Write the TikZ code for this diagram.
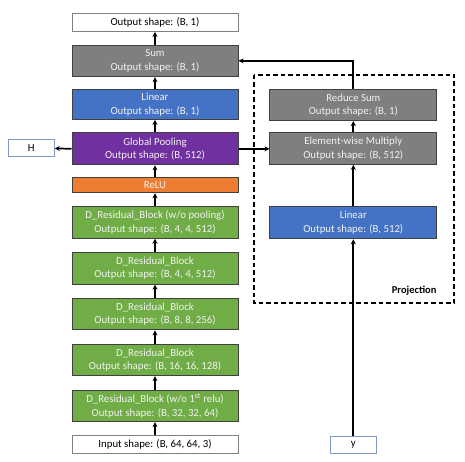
\documentclass[tikz,border=0pt]{standalone}
\usepackage{fontspec}
\setmainfont{Carlito}
\usetikzlibrary{arrows.meta}
\definecolor{cgray}{HTML}{7F7F7F}
\definecolor{cblue}{HTML}{4472C4}
\definecolor{cpurple}{HTML}{7030A0}
\definecolor{corange}{HTML}{ED7D31}
\definecolor{cgreen}{HTML}{70AD47}
\definecolor{cedge}{HTML}{404040}
\definecolor{ctext}{HTML}{F2F2F2}
\definecolor{clblue}{HTML}{7F9AC9}
\begin{document}
\begin{tikzpicture}[x=1pt,y=1pt,
  blk/.style={draw=cedge,line width=1pt,text=ctext,align=center,inner sep=0pt,
    minimum width=166pt,minimum height=31.5pt,font=\fontsize{10.8}{13.4}\selectfont},
  wbox/.style={draw=cgray,line width=1pt,fill=white,text=black,align=center,inner sep=0pt,
    minimum width=166pt,minimum height=18pt,font=\fontsize{10.8}{13.4}\selectfont},
  sbox/.style={draw=clblue,line width=1pt,fill=white,text=black,inner sep=0pt,
    minimum width=46pt,minimum height=17pt,font=\fontsize{10.8}{13.4}\selectfont},
  arr/.style={line width=1.7pt,-{Stealth[length=5pt,width=5pt]}},
]
\useasboundingbox (0,0) rectangle (465,-462);
% main column
\node[wbox] (out) at (155,-22.5) {Output shape: (B, 1)};
\node[blk,fill=cgray] (sum) at (155,-60.85) {Sum\\Output shape: (B, 1)};
\node[blk,fill=cblue,minimum height=29.5pt] (lin) at (155,-104.65) {Linear\\Output shape: (B, 1)};
\node[blk,fill=cpurple,minimum height=32pt] (gp) at (155,-148.85) {Global Pooling\\Output shape: (B, 512)};
\node[blk,fill=corange,minimum height=15.5pt] (relu) at (155,-185) {ReLU};
\node[blk,fill=cgreen] (r1) at (155,-222.5) {D\_Residual\_Block (w/o pooling)\\Output shape: (B, 4, 4, 512)};
\node[blk,fill=cgreen] (r2) at (155,-268.35) {D\_Residual\_Block\\Output shape: (B, 4, 4, 512)};
\node[blk,fill=cgreen] (r3) at (155,-314.15) {D\_Residual\_Block\\Output shape: (B, 8, 8, 256)};
\node[blk,fill=cgreen] (r4) at (155,-359.85) {D\_Residual\_Block\\Output shape: (B, 16, 16, 128)};
\node[blk,fill=cgreen] (r5) at (155,-405.85) {D\_Residual\_Block (w/o 1\textsuperscript{st} relu)\\Output shape: (B, 32, 32, 64)};
\node[wbox] (in) at (155,-444.5) {Input shape: (B, 64, 64, 3)};
\node[sbox] (H) at (31.3,-148.35) {H};
% projection
\draw[line width=1.4pt,dash pattern=on 4.5pt off 3pt] (254,-75) rectangle (454,-303);
\node[font=\bfseries\fontsize{10.5}{12}\selectfont,anchor=south east,inner sep=0pt] (plabel) at (436.7,-295) {Projection};
\node[blk,fill=cgray,minimum width=166.7pt] (rs) at (353.3,-104.85) {Reduce Sum\\Output shape: (B, 1)};
\node[blk,fill=cgray,minimum width=166.7pt] (ew) at (353.3,-148.5) {Element-wise Multiply\\Output shape: (B, 512)};
\node[blk,fill=cblue,minimum width=166.7pt,minimum height=32pt] (plin) at (353.3,-222.85) {Linear\\Output shape: (B, 512)};
\node[sbox] (y) at (353.3,-444.5) {y};
% arrows
\draw[arr] (in) -- (r5);
\draw[arr] (r5) -- (r4);
\draw[arr] (r4) -- (r3);
\draw[arr] (r3) -- (r2);
\draw[arr] (r2) -- (r1);
\draw[arr] (r1) -- (relu);
\draw[arr] (relu) -- (gp);
\draw[arr] (gp) -- (lin);
\draw[arr] (lin) -- (sum);
\draw[arr] (sum) -- (out);
\draw[arr] (gp.west) -- (H.east);
\draw[arr] (gp.east) -- (gp.east -| ew.west);
\draw[arr] (y) -- (plin);
\draw[arr] (plin) -- (ew);
\draw[arr] (ew) -- (rs);
\draw[arr] (rs.north) |- (sum.east);
\end{tikzpicture}
\end{document}
